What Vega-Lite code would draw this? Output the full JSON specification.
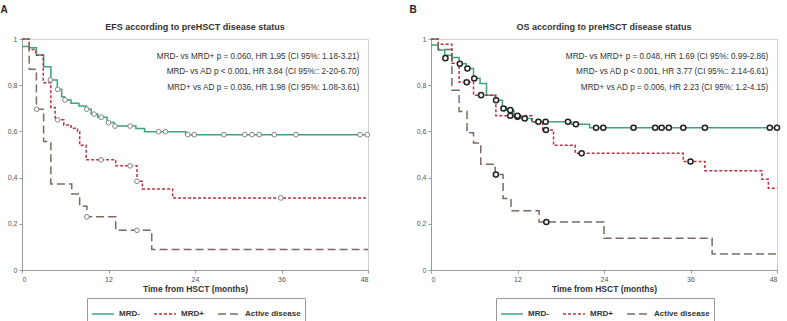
{
  "$schema": "https://vega.github.io/schema/vega-lite/v6.json",
  "padding": {"left": 0, "top": 4, "right": 5, "bottom": 0},
  "background": "white",
  "config": {
    "font": "Liberation Sans",
    "view": {"stroke": "#cfcfcf"},
    "axis": {"labelFontSize": 7, "labelColor": "#555", "domainColor": "#9a9a9a", "tickColor": "#9a9a9a", "tickSize": 3, "grid": false, "labelPadding": 2},
    "legend": {"labelFontSize": 8, "labelFontWeight": "bold", "labelColor": "#333", "symbolStrokeWidth": 1.5, "strokeColor": "#999", "padding": 4, "columnPadding": 11, "labelOffset": 4, "symbolType": "stroke", "symbolSize": 480}
  },
  "datasets": {
    "efs": [
      {"g": "MRD-", "t": 0, "s": 0.967}, {"g": "MRD-", "t": 1.0, "s": 0.962}, {"g": "MRD-", "t": 2.0, "s": 0.931}, {"g": "MRD-", "t": 3.0, "s": 0.88}, {"g": "MRD-", "t": 4.0, "s": 0.823}, {"g": "MRD-", "t": 4.9, "s": 0.782}, {"g": "MRD-", "t": 5.5, "s": 0.75}, {"g": "MRD-", "t": 5.9, "s": 0.736}, {"g": "MRD-", "t": 6.8, "s": 0.722}, {"g": "MRD-", "t": 7.9, "s": 0.71}, {"g": "MRD-", "t": 8.9, "s": 0.696}, {"g": "MRD-", "t": 9.6, "s": 0.675}, {"g": "MRD-", "t": 10.5, "s": 0.661}, {"g": "MRD-", "t": 11.8, "s": 0.638}, {"g": "MRD-", "t": 12.8, "s": 0.623}, {"g": "MRD-", "t": 15.8, "s": 0.613}, {"g": "MRD-", "t": 17.0, "s": 0.599}, {"g": "MRD-", "t": 22.7, "s": 0.586}, {"g": "MRD-", "t": 48, "s": 0.586},
      {"g": "MRD+", "t": 0, "s": 1}, {"g": "MRD+", "t": 1.0, "s": 0.955}, {"g": "MRD+", "t": 1.9, "s": 0.93}, {"g": "MRD+", "t": 2.95, "s": 0.811}, {"g": "MRD+", "t": 4.0, "s": 0.704}, {"g": "MRD+", "t": 4.6, "s": 0.65}, {"g": "MRD+", "t": 5.8, "s": 0.628}, {"g": "MRD+", "t": 6.8, "s": 0.614}, {"g": "MRD+", "t": 7.7, "s": 0.6}, {"g": "MRD+", "t": 8.0, "s": 0.54}, {"g": "MRD+", "t": 8.9, "s": 0.477}, {"g": "MRD+", "t": 13.0, "s": 0.451}, {"g": "MRD+", "t": 15.95, "s": 0.384}, {"g": "MRD+", "t": 16.7, "s": 0.351}, {"g": "MRD+", "t": 20.9, "s": 0.312}, {"g": "MRD+", "t": 48, "s": 0.312},
      {"g": "Active disease", "t": 0, "s": 1}, {"g": "Active disease", "t": 1.0, "s": 0.869}, {"g": "Active disease", "t": 2.0, "s": 0.696}, {"g": "Active disease", "t": 3.0, "s": 0.556}, {"g": "Active disease", "t": 4.0, "s": 0.372}, {"g": "Active disease", "t": 6.9, "s": 0.329}, {"g": "Active disease", "t": 8.0, "s": 0.276}, {"g": "Active disease", "t": 9.0, "s": 0.23}, {"g": "Active disease", "t": 13.0, "s": 0.172}, {"g": "Active disease", "t": 18.0, "s": 0.089}, {"g": "Active disease", "t": 48, "s": 0.089}
    ],
    "efs_c": [
      {"t": 3.95, "s": 0.823}, {"t": 4.95, "s": 0.782}, {"t": 5.96, "s": 0.736}, {"t": 8.97, "s": 0.696}, {"t": 10.0, "s": 0.675}, {"t": 11.0, "s": 0.661}, {"t": 12.0, "s": 0.638}, {"t": 12.9, "s": 0.623}, {"t": 15.0, "s": 0.623}, {"t": 18.95, "s": 0.599}, {"t": 19.9, "s": 0.599}, {"t": 23.0, "s": 0.586}, {"t": 23.9, "s": 0.586}, {"t": 28.0, "s": 0.586}, {"t": 30.9, "s": 0.586}, {"t": 31.9, "s": 0.586}, {"t": 32.9, "s": 0.586}, {"t": 35.0, "s": 0.586}, {"t": 38.0, "s": 0.586}, {"t": 46.9, "s": 0.586}, {"t": 47.9, "s": 0.586},
      {"t": 4.95, "s": 0.65}, {"t": 10.96, "s": 0.477}, {"t": 15.0, "s": 0.451}, {"t": 15.95, "s": 0.384}, {"t": 35.9, "s": 0.312},
      {"t": 2.03, "s": 0.696}, {"t": 9.0, "s": 0.23}, {"t": 15.95, "s": 0.172}
    ],
    "efs_t": [
      {"t": 46.8, "s": 0.922, "label": "MRD- vs MRD+ p = 0.060, HR 1.95 (CI 95%: 1.18-3.21)"},
      {"t": 46.8, "s": 0.855, "label": "MRD- vs AD p < 0.001, HR 3.84 (CI 95%:: 2-20-6.70)"},
      {"t": 46.8, "s": 0.787, "label": "MRD+ vs AD p = 0.036, HR 1.98 (CI 95%: 1.08-3.61)"}
    ],
    "os": [
      {"g": "MRD-", "t": 0, "s": 0.974}, {"g": "MRD-", "t": 1.0, "s": 0.952}, {"g": "MRD-", "t": 1.9, "s": 0.93}, {"g": "MRD-", "t": 2.9, "s": 0.92}, {"g": "MRD-", "t": 3.9, "s": 0.893}, {"g": "MRD-", "t": 4.9, "s": 0.872}, {"g": "MRD-", "t": 5.9, "s": 0.83}, {"g": "MRD-", "t": 6.8, "s": 0.807}, {"g": "MRD-", "t": 7.7, "s": 0.757}, {"g": "MRD-", "t": 8.9, "s": 0.735}, {"g": "MRD-", "t": 9.9, "s": 0.705}, {"g": "MRD-", "t": 10.5, "s": 0.692}, {"g": "MRD-", "t": 11.5, "s": 0.663}, {"g": "MRD-", "t": 12.5, "s": 0.656}, {"g": "MRD-", "t": 14.0, "s": 0.642}, {"g": "MRD-", "t": 19.5, "s": 0.631}, {"g": "MRD-", "t": 22.0, "s": 0.616}, {"g": "MRD-", "t": 48, "s": 0.616},
      {"g": "MRD+", "t": 0, "s": 1}, {"g": "MRD+", "t": 1.0, "s": 0.977}, {"g": "MRD+", "t": 2.9, "s": 0.895}, {"g": "MRD+", "t": 3.9, "s": 0.813}, {"g": "MRD+", "t": 5.9, "s": 0.757}, {"g": "MRD+", "t": 9.0, "s": 0.668}, {"g": "MRD+", "t": 14.0, "s": 0.642}, {"g": "MRD+", "t": 15.5, "s": 0.606}, {"g": "MRD+", "t": 17.0, "s": 0.54}, {"g": "MRD+", "t": 20.0, "s": 0.505}, {"g": "MRD+", "t": 35.0, "s": 0.47}, {"g": "MRD+", "t": 38.0, "s": 0.43}, {"g": "MRD+", "t": 45.9, "s": 0.393}, {"g": "MRD+", "t": 46.8, "s": 0.354}, {"g": "MRD+", "t": 48, "s": 0.354},
      {"g": "Active disease", "t": 0, "s": 1}, {"g": "Active disease", "t": 1.0, "s": 0.955}, {"g": "Active disease", "t": 2.9, "s": 0.778}, {"g": "Active disease", "t": 3.9, "s": 0.686}, {"g": "Active disease", "t": 5.0, "s": 0.594}, {"g": "Active disease", "t": 5.9, "s": 0.55}, {"g": "Active disease", "t": 6.9, "s": 0.458}, {"g": "Active disease", "t": 8.9, "s": 0.413}, {"g": "Active disease", "t": 10.0, "s": 0.309}, {"g": "Active disease", "t": 11.1, "s": 0.257}, {"g": "Active disease", "t": 15.0, "s": 0.208}, {"g": "Active disease", "t": 24.0, "s": 0.137}, {"g": "Active disease", "t": 39.0, "s": 0.069}, {"g": "Active disease", "t": 48, "s": 0.069}
    ],
    "os_c": [
      {"t": 2.0, "s": 0.917}, {"t": 4.0, "s": 0.893}, {"t": 5.05, "s": 0.872}, {"t": 6.0, "s": 0.829}, {"t": 9.03, "s": 0.735}, {"t": 10.05, "s": 0.699}, {"t": 11.0, "s": 0.692}, {"t": 12.0, "s": 0.663}, {"t": 13.0, "s": 0.656}, {"t": 14.9, "s": 0.642}, {"t": 15.9, "s": 0.642}, {"t": 19.0, "s": 0.642}, {"t": 20.1, "s": 0.631}, {"t": 22.9, "s": 0.616}, {"t": 23.9, "s": 0.616}, {"t": 28.1, "s": 0.616}, {"t": 31.1, "s": 0.616}, {"t": 32.0, "s": 0.616}, {"t": 33.0, "s": 0.616}, {"t": 35.0, "s": 0.616}, {"t": 38.0, "s": 0.616}, {"t": 47.0, "s": 0.616}, {"t": 48.0, "s": 0.616},
      {"t": 4.95, "s": 0.813}, {"t": 6.95, "s": 0.757}, {"t": 11.0, "s": 0.668}, {"t": 12.0, "s": 0.668}, {"t": 15.95, "s": 0.606}, {"t": 20.9, "s": 0.505}, {"t": 36.0, "s": 0.47},
      {"t": 9.0, "s": 0.413}, {"t": 16.0, "s": 0.208}
    ],
    "os_t": [
      {"t": 46.8, "s": 0.922, "label": "MRD- vs MRD+ p = 0.048, HR 1.69 (CI 95%: 0.99-2.86)"},
      {"t": 46.8, "s": 0.855, "label": "MRD- vs AD p < 0.001, HR 3.77 (CI 95%:: 2.14-6.61)"},
      {"t": 46.8, "s": 0.787, "label": "MRD+ vs AD p = 0.006, HR 2.23 (CI 95%: 1.2-4.15)"}
    ]
  },
  "spacing": 37,
  "resolve": {"legend": {"color": "independent", "strokeDash": "independent"}},
  "hconcat": [
    {
      "title": {"text": "A", "anchor": "start", "frame": "bounds", "fontSize": 10, "fontWeight": "bold", "color": "#222", "offset": 8},
      "resolve": {"legend": {"color": "independent", "strokeDash": "independent"}},
      "hconcat": [
        {
          "title": {"text": "EFS according to preHSCT disease status", "fontSize": 9, "fontWeight": "bold", "color": "#333", "offset": 3},
          "width": 346,
          "height": 231,
          "layer": [
            {
              "data": {"name": "efs"},
              "mark": {"type": "line", "interpolate": "step-after", "strokeWidth": 1.5},
              "encoding": {
                "x": {"field": "t", "type": "quantitative", "scale": {"domain": [0, 48], "nice": false}, "axis": {"values": [0, 12, 24, 36, 48], "title": "Time from HSCT (months)", "titleFontSize": 8.5, "titleFontWeight": "bold", "titleColor": "#333", "titlePadding": 2}},
                "y": {"field": "s", "type": "quantitative", "scale": {"domain": [0, 1], "nice": false}, "axis": {"values": [0, 0.1, 0.2, 0.3, 0.4, 0.5, 0.6, 0.7, 0.8, 0.9, 1], "title": null, "labelExpr": "replace(format(datum.value, '.1~f'), '.', ',')", "minExtent": 21, "maxExtent": 21}},
                "color": {"field": "g", "type": "nominal", "scale": {"domain": ["MRD-", "MRD+", "Active disease"], "range": ["#3fa37b", "#b8323f", "#7c6a62"]}, "legend": {"orient": "none", "legendX": 65, "legendY": 259, "direction": "horizontal", "title": null}},
                "strokeDash": {"field": "g", "type": "nominal", "scale": {"domain": ["MRD-", "MRD+", "Active disease"], "range": [[1, 0], [3, 2], [8, 4]]}, "legend": {"orient": "none", "legendX": 65, "legendY": 259, "direction": "horizontal", "title": null}}
              }
            },
            {
              "data": {"name": "efs_c"},
              "mark": {"type": "point", "shape": "circle", "filled": true, "fill": "white", "stroke": "#777", "strokeWidth": 0.9, "size": 22, "opacity": 1},
              "encoding": {
                "x": {"field": "t", "type": "quantitative"},
                "y": {"field": "s", "type": "quantitative"}
              }
            },
            {
              "data": {"name": "efs_t"},
              "mark": {"type": "text", "align": "right", "baseline": "middle", "fontSize": 8.2, "color": "#333"},
              "encoding": {
                "x": {"field": "t", "type": "quantitative"},
                "y": {"field": "s", "type": "quantitative"},
                "text": {"field": "label"}
              }
            }
          ]
        }
      ]
    },
    {
      "title": {"text": "B", "anchor": "start", "frame": "bounds", "fontSize": 10, "fontWeight": "bold", "color": "#222", "offset": 8},
      "resolve": {"legend": {"color": "independent", "strokeDash": "independent"}},
      "hconcat": [
        {
          "title": {"text": "OS according to preHSCT disease status", "fontSize": 9, "fontWeight": "bold", "color": "#333", "offset": 3},
          "width": 346,
          "height": 231,
          "layer": [
            {
              "data": {"name": "os"},
              "mark": {"type": "line", "interpolate": "step-after", "strokeWidth": 1.5},
              "encoding": {
                "x": {"field": "t", "type": "quantitative", "scale": {"domain": [0, 48], "nice": false}, "axis": {"values": [0, 12, 24, 36, 48], "title": "Time from HSCT (months)", "titleFontSize": 8.5, "titleFontWeight": "bold", "titleColor": "#333", "titlePadding": 2}},
                "y": {"field": "s", "type": "quantitative", "scale": {"domain": [0, 1], "nice": false}, "axis": {"values": [0, 0.1, 0.2, 0.3, 0.4, 0.5, 0.6, 0.7, 0.8, 0.9, 1], "title": null, "labelExpr": "replace(format(datum.value, '.1~f'), '.', ',')", "minExtent": 21, "maxExtent": 21}},
                "color": {"field": "g", "type": "nominal", "scale": {"domain": ["MRD-", "MRD+", "Active disease"], "range": ["#3fa37b", "#b8323f", "#7c6a62"]}, "legend": {"orient": "none", "legendX": 65, "legendY": 259, "direction": "horizontal", "title": null}},
                "strokeDash": {"field": "g", "type": "nominal", "scale": {"domain": ["MRD-", "MRD+", "Active disease"], "range": [[1, 0], [3, 2], [8, 4]]}, "legend": {"orient": "none", "legendX": 65, "legendY": 259, "direction": "horizontal", "title": null}}
              }
            },
            {
              "data": {"name": "os_c"},
              "mark": {"type": "point", "shape": "circle", "filled": true, "fill": "white", "stroke": "#222", "strokeWidth": 1.5, "size": 26, "opacity": 1},
              "encoding": {
                "x": {"field": "t", "type": "quantitative"},
                "y": {"field": "s", "type": "quantitative"}
              }
            },
            {
              "data": {"name": "os_t"},
              "mark": {"type": "text", "align": "right", "baseline": "middle", "fontSize": 8.2, "color": "#333"},
              "encoding": {
                "x": {"field": "t", "type": "quantitative"},
                "y": {"field": "s", "type": "quantitative"},
                "text": {"field": "label"}
              }
            }
          ]
        }
      ]
    }
  ]
}
